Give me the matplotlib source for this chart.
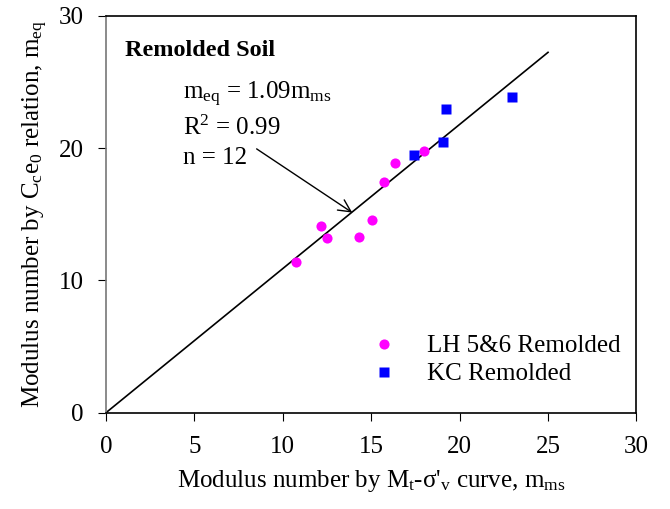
import matplotlib.pyplot as plt

plt.rcParams['font.family'] = ['Liberation Serif', 'DejaVu Serif']
plt.rcParams['mathtext.fontset'] = 'custom'
plt.rcParams['mathtext.rm'] = 'Liberation Serif'
plt.rcParams['mathtext.it'] = 'Liberation Serif:italic'
plt.rcParams['mathtext.bf'] = 'Liberation Serif:bold'

# data
lh_x = [10.75, 12.14, 12.48, 14.31, 15.03, 15.74, 16.35, 17.99]
lh_y = [11.42, 14.12, 13.19, 13.31, 14.60, 17.45, 18.87, 19.80]
kc_x = [17.44, 19.08, 19.21, 22.95]
kc_y = [19.52, 20.48, 22.95, 23.90]
fit_x = [0, 25]
fit_y = [0, 27.25]
xticks = [0, 5, 10, 15, 20, 25, 30]
yticks = [0, 10, 20, 30]

fig = plt.figure(figsize=(6.7, 5.09), dpi=100)
ax = fig.add_axes([0.1582, 0.1892, 0.7917, 0.7794])

ax.plot(fit_x, fit_y, color='black', lw=1.2, zorder=2)
ax.plot(lh_x, lh_y, 'o', color='#ff00ff', markersize=7.3, mec='none',
        label='LH 5&6 Remolded', zorder=3)
ax.plot(kc_x, kc_y, 's', color='#0000ff', markersize=6.7, mec='none',
        label='KC Remolded', zorder=3)

ax.set_xlim(0, 30)
ax.set_ylim(0, 30)
ax.set_xticks(xticks)
ax.set_yticks(yticks)
ax.tick_params(direction='out', length=6, labelsize=18, top=False, right=False)
ax.tick_params(axis='x', pad=11)
ax.tick_params(axis='y', pad=10)
for s in ax.spines.values():
    s.set_linewidth(1.2)
ax.spines['left'].set_color('#777777')

ax.set_xlabel(r"Modulus number by M$_\mathregular{t}$-σ'$_\mathregular{v}$ curve, m$_\mathregular{ms}$",
              fontsize=18, labelpad=7)
ax.set_ylabel(r"Modulus number by C$_\mathregular{c}$e$_\mathregular{0}$ relation, m$_\mathregular{eq}$",
              fontsize=18, labelpad=6)

ax.text(1.07, 26.96, 'Remolded Soil', fontsize=17.5, fontweight='bold', va='baseline')
ax.text(4.37, 23.69, r"m$_\mathregular{eq}$ = 1.09m$_\mathregular{ms}$", fontsize=18, va='baseline')
ax.text(4.37, 20.98, r"R$^\mathregular{2}$ = 0.99", fontsize=18, va='baseline')
ax.text(4.37, 18.84, "n = 12", fontsize=18, va='baseline')
ax.annotate('', xy=(13.93, 15.13), xytext=(8.52, 19.95),
            arrowprops=dict(arrowstyle='->', color='black', lw=1, mutation_scale=22,
                            shrinkA=0, shrinkB=0))

ax.legend(loc='upper left', bbox_to_anchor=(0.4776, 0.196), frameon=False, fontsize=18,
          handlelength=2.0, handletextpad=0.7, labelspacing=0.22, borderpad=0,
          borderaxespad=0)

fig.savefig('out.png', dpi=100)
